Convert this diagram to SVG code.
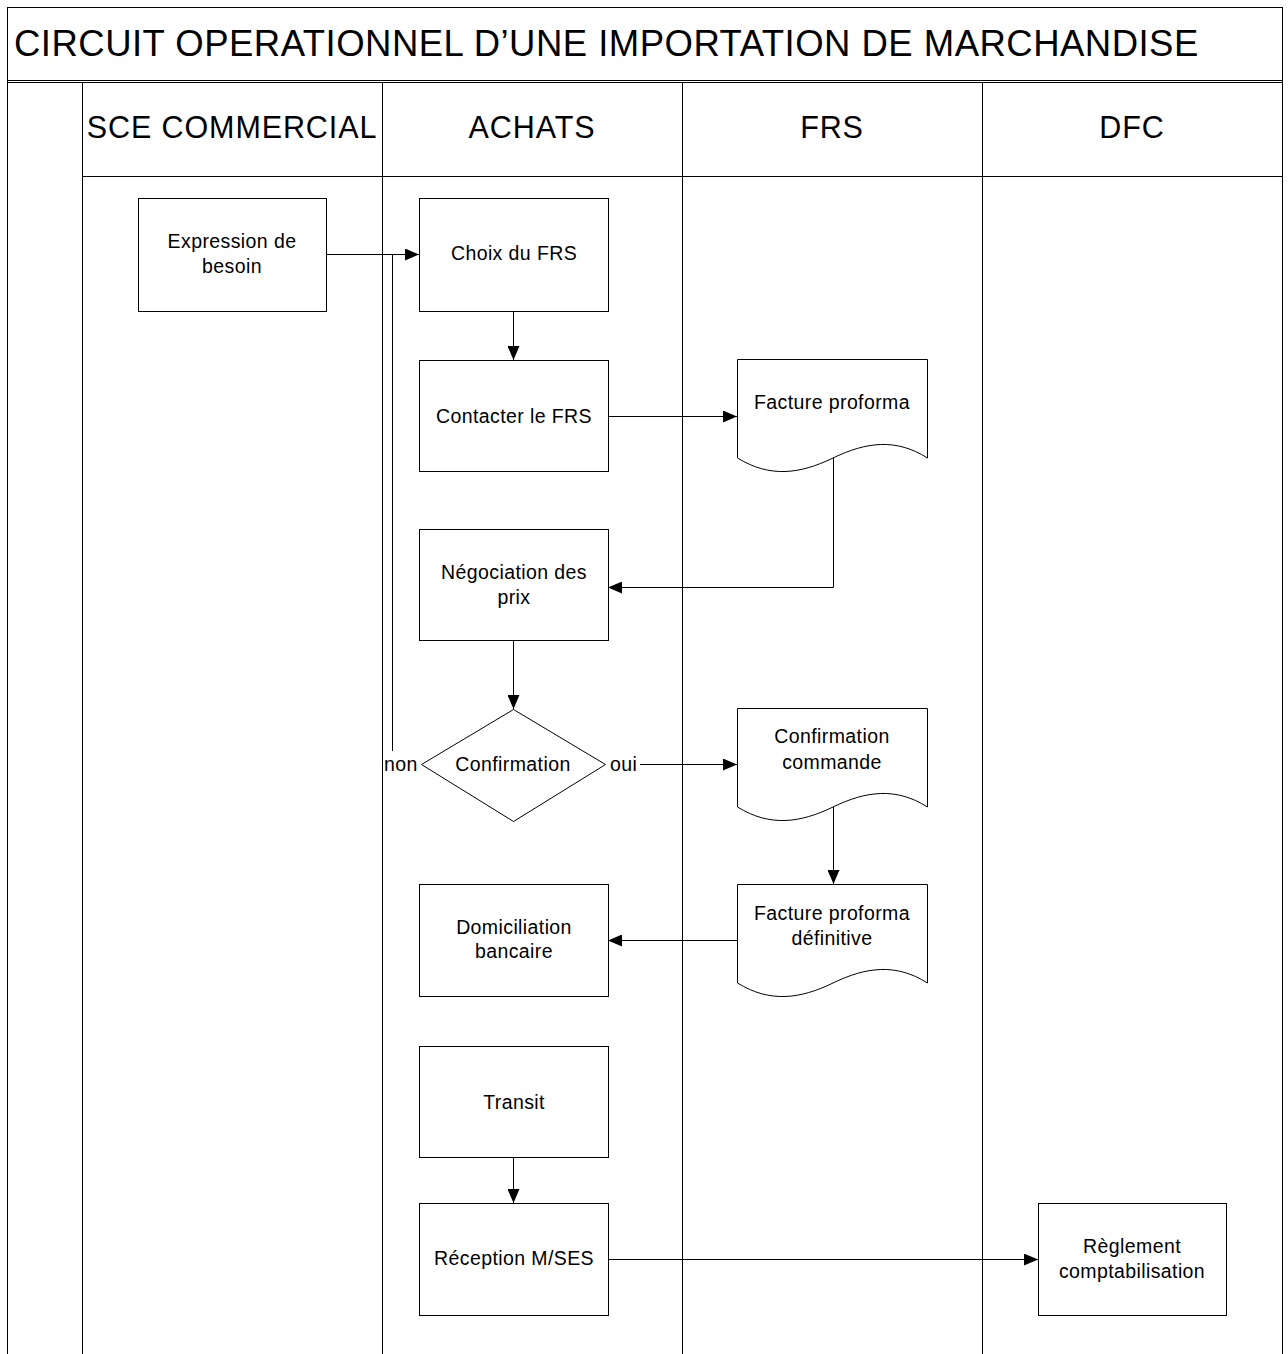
<svg xmlns="http://www.w3.org/2000/svg" width="1288" height="1354" viewBox="0 0 1288 1354">
  <style>
    .frame { fill: none; stroke: #000; stroke-width: 1; }
    .box { fill: #fff; stroke: #000; stroke-width: 1; }
    .link { fill: none; stroke: #000; stroke-width: 1; }
    text { font-family: "Liberation Sans", Arial, sans-serif; fill: #000; }
    .title { font-size: 36.5px; letter-spacing: 0.48px; }
    .lane { font-size: 30.5px; letter-spacing: 0.9px; text-anchor: middle; }
    .lbl { font-size: 19.5px; letter-spacing: 0.4px; text-anchor: middle; }
    .side { font-size: 19.5px; letter-spacing: 0.4px; }
  </style>
  <defs>
    <marker id="arrow" viewBox="0 0 14 12" refX="14" refY="6" markerWidth="14" markerHeight="12" markerUnits="userSpaceOnUse" orient="auto">
      <path d="M0,0 L14,6 L0,12 Z" fill="#000"/>
    </marker>
  </defs>
  <rect width="1288" height="1354" fill="#fff"/>

  <!-- title band and swimlane frame -->
  <g id="frame">
    <rect class="frame" x="7.5" y="7.5" width="1275" height="73"/>
    <text class="title" x="14" y="56">CIRCUIT OPERATIONNEL D’UNE IMPORTATION DE MARCHANDISE</text>
    <line class="frame" x1="7.5" y1="82.5" x2="1282.5" y2="82.5"/>
    <line class="frame" x1="7.5" y1="80" x2="7.5" y2="1354"/>
    <line class="frame" x1="1282.5" y1="80" x2="1282.5" y2="1354"/>
    <line class="frame" x1="82.5" y1="82" x2="82.5" y2="1354"/>
    <line class="frame" x1="382.5" y1="82" x2="382.5" y2="1354"/>
    <line class="frame" x1="682.5" y1="82" x2="682.5" y2="1354"/>
    <line class="frame" x1="982.5" y1="82" x2="982.5" y2="1354"/>
    <line class="frame" x1="82.5" y1="176.5" x2="1282.5" y2="176.5"/>
    <text class="lane" x="232" y="138">SCE COMMERCIAL</text>
    <text class="lane" x="532" y="138">ACHATS</text>
    <text class="lane" x="832" y="138">FRS</text>
    <text class="lane" x="1132" y="138">DFC</text>
  </g>

  <!-- connectors -->
  <g id="connectors">
    <line class="link" x1="326" y1="254.5" x2="419" y2="254.5" marker-end="url(#arrow)"/>
    <polyline class="link" points="392.5,751 392.5,254.5 400,254.5"/>
    <line class="link" x1="513.5" y1="311" x2="513.5" y2="360" marker-end="url(#arrow)"/>
    <line class="link" x1="608" y1="416.5" x2="737" y2="416.5" marker-end="url(#arrow)"/>
    <polyline class="link" points="833.5,458 833.5,587.5 608,587.5" marker-end="url(#arrow)"/>
    <line class="link" x1="513.5" y1="640" x2="513.5" y2="709" marker-end="url(#arrow)"/>
    <line class="link" x1="640" y1="764.5" x2="737" y2="764.5" marker-end="url(#arrow)"/>
    <line class="link" x1="833.5" y1="807" x2="833.5" y2="884" marker-end="url(#arrow)"/>
    <line class="link" x1="737" y1="940.5" x2="608" y2="940.5" marker-end="url(#arrow)"/>
    <line class="link" x1="513.5" y1="1157" x2="513.5" y2="1203" marker-end="url(#arrow)"/>
    <line class="link" x1="608" y1="1259.5" x2="1038" y2="1259.5" marker-end="url(#arrow)"/>
    <text class="side" x="384" y="771">non</text>
    <text class="side" x="610" y="771">oui</text>
  </g>

  <g id="expression-besoin">
    <rect class="box" x="138.5" y="198.5" width="188" height="113"/>
    <text class="lbl" x="232" y="248">Expression de</text>
    <text class="lbl" x="232" y="273">besoin</text>
  </g>

  <g id="choix-frs">
    <rect class="box" x="419.5" y="198.5" width="189" height="113"/>
    <text class="lbl" x="514" y="260">Choix du FRS</text>
  </g>

  <g id="contacter-frs">
    <rect class="box" x="419.5" y="360.5" width="189" height="111"/>
    <text class="lbl" x="514" y="423">Contacter le FRS</text>
  </g>

  <g id="facture-proforma">
    <path class="box" d="M737.5,359.5 H927.5 V458 C896,438 866,442 833,458 C800,474 770,478 737.5,458 Z"/>
    <text class="lbl" x="832" y="409">Facture proforma</text>
  </g>

  <g id="negociation-prix">
    <rect class="box" x="419.5" y="529.5" width="189" height="111"/>
    <text class="lbl" x="514" y="579">Négociation des</text>
    <text class="lbl" x="514" y="604">prix</text>
  </g>

  <g id="confirmation">
    <polygon class="box" points="513.5,709.5 605.5,764.5 513.5,821.5 421.5,764.5"/>
    <text class="lbl" x="513" y="771">Confirmation</text>
  </g>

  <g id="confirmation-commande">
    <path class="box" d="M737.5,708.5 H927.5 V807 C896,787 866,791 833,807 C800,823 770,827 737.5,807 Z"/>
    <text class="lbl" x="832" y="743">Confirmation</text>
    <text class="lbl" x="832" y="769">commande</text>
  </g>

  <g id="facture-proforma-definitive">
    <path class="box" d="M737.5,884.5 H927.5 V983 C896,963 866,967 833,983 C800,999 770,1003 737.5,983 Z"/>
    <text class="lbl" x="832" y="920">Facture proforma</text>
    <text class="lbl" x="832" y="945">définitive</text>
  </g>

  <g id="domiciliation-bancaire">
    <rect class="box" x="419.5" y="884.5" width="189" height="112"/>
    <text class="lbl" x="514" y="934">Domiciliation</text>
    <text class="lbl" x="514" y="958">bancaire</text>
  </g>

  <g id="transit">
    <rect class="box" x="419.5" y="1046.5" width="189" height="111"/>
    <text class="lbl" x="514" y="1109">Transit</text>
  </g>

  <g id="reception-marchandises">
    <rect class="box" x="419.5" y="1203.5" width="189" height="112"/>
    <text class="lbl" x="514" y="1265">Réception M/SES</text>
  </g>

  <g id="reglement-comptabilisation">
    <rect class="box" x="1038.5" y="1203.5" width="188" height="112"/>
    <text class="lbl" x="1132" y="1253">Règlement</text>
    <text class="lbl" x="1132" y="1278">comptabilisation</text>
  </g>
</svg>
